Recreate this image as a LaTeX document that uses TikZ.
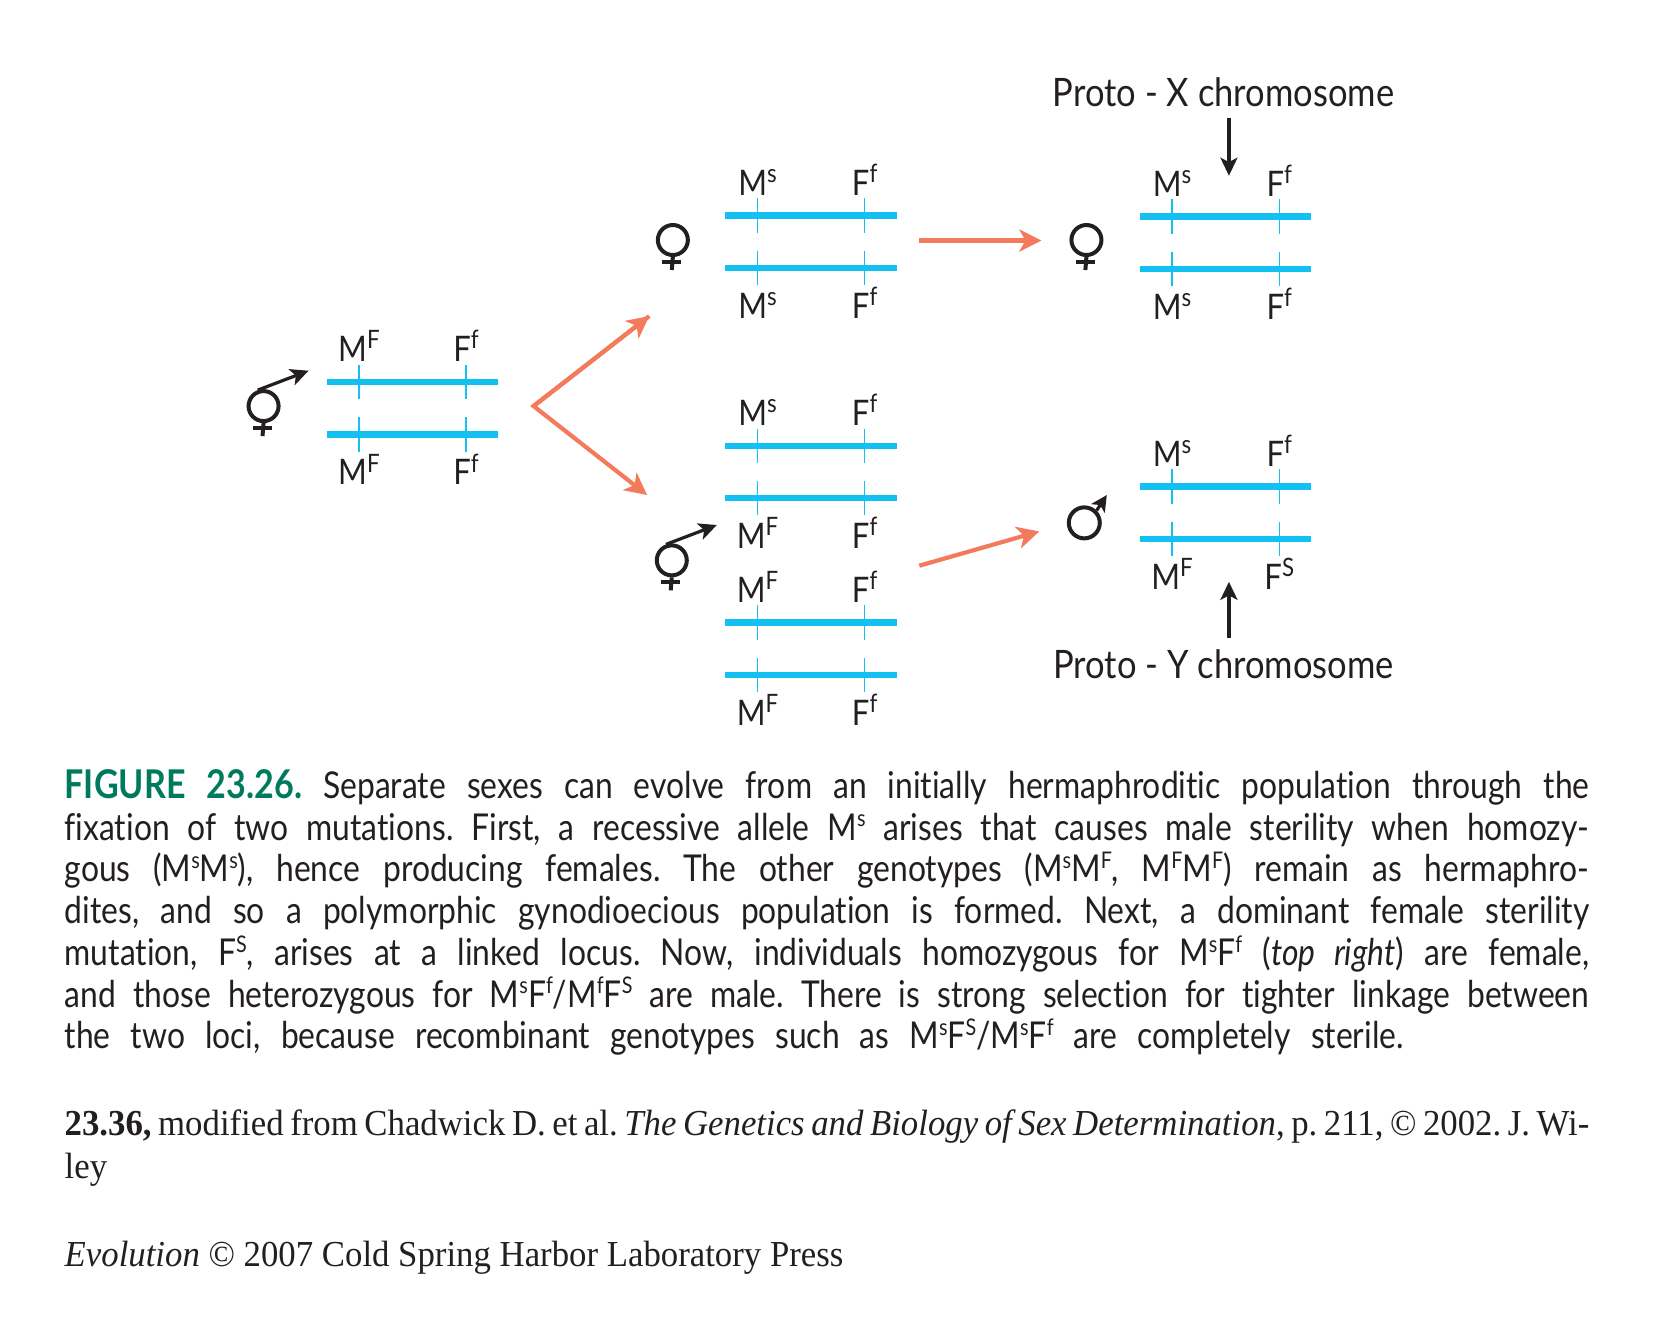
\documentclass[tikz,border=0pt]{standalone}
\usepackage{fontspec}
\usetikzlibrary{arrows.meta}
\setmainfont[FakeStretch=0.95]{Liberation Serif}
\newfontfamily\capfont[FakeStretch=0.86,Ligatures=NoCommon]{Lato}
\newfontfamily\lblfont[FakeStretch=0.88,Ligatures=NoCommon]{Lato}
\definecolor{chromblue}{HTML}{13C0F2}
\definecolor{salmon}{HTML}{F47A5C}
\definecolor{figgreen}{HTML}{007A5E}
\definecolor{inkblack}{HTML}{231F20}
\newcommand{\lsup}[1]{\raisebox{0.36em}{\scalebox{0.72}{#1}}}
\newcommand{\csup}[1]{\raisebox{0.36em}{\scalebox{0.62}{#1}}}
\frenchspacing
\tikzset{
  bar/.style={draw=chromblue,line width=3.2pt},
  tick/.style={draw=chromblue,line width=0.75pt},
  gene/.style={anchor=base,inner sep=0pt,font=\lblfont\fontsize{17.6}{18}\selectfont,text=inkblack},
  proto/.style={anchor=base,inner sep=0pt,font=\lblfont\fontsize{19.6}{20}\selectfont,text=inkblack},
  redarrow/.style={draw=salmon,line width=2.1pt,-{Stealth[length=11pt,width=11pt,inset=3pt]}},
  blackarrow/.style={draw=inkblack,line width=1.6pt,-{Stealth[length=9pt,width=8.5pt,inset=2.2pt]}},
  symb/.style={draw=inkblack,line width=2pt},
  capline/.style={anchor=base west,inner sep=0pt,font=\capfont\fontsize{18.5}{20}\selectfont,text=inkblack},
  credit/.style={anchor=base west,inner sep=0pt,font=\fontsize{18.3}{20}\selectfont,text=inkblack},
}
% \pairbars{name}{xleft}{ybar1}{ybar2}{lab tl}{lab tr}{lab bl}{lab br}
\newcommand{\pairbars}[8]{%
  \coordinate (#1a) at (#2,#3);
  \coordinate (#1b) at ({#2+160},#3);
  \coordinate (#1c) at (#2,#4);
  \coordinate (#1d) at ({#2+160},#4);
  \draw[bar] (#1a) -- (#1b);
  \draw[bar] (#1c) -- (#1d);
  \coordinate (#1t1) at ({#2+30},{#3-16});
  \coordinate (#1t2) at ({#2+30},{#3+16});
  \coordinate (#1t3) at ({#2+130},{#3-16});
  \coordinate (#1t4) at ({#2+130},{#3+16});
  \coordinate (#1t5) at ({#2+30},{#4-16});
  \coordinate (#1t6) at ({#2+30},{#4+16});
  \coordinate (#1t7) at ({#2+130},{#4-16});
  \coordinate (#1t8) at ({#2+130},{#4+16});
  \draw[tick] (#1t1) -- (#1t2);
  \draw[tick] (#1t3) -- (#1t4);
  \draw[tick] (#1t5) -- (#1t6);
  \draw[tick] (#1t7) -- (#1t8);
  \node[gene] (#1l1) at ({#2+30},{#3-19}) {#5};
  \node[gene] (#1l2) at ({#2+130},{#3-19}) {#6};
  \node[gene] (#1l3) at ({#2+30},{#4+47}) {#7};
  \node[gene] (#1l4) at ({#2+130},{#4+47}) {#8};
}
\newcommand{\MF}{M\lsup{F}}
\newcommand{\Ms}{M\lsup{s}}
\newcommand{\Ff}{F\lsup{f}}
\newcommand{\FS}{F\lsup{S}}
% female-base symbol: circle at (x,y)
\newcommand{\venus}[3]{%
  \node[symb,circle,minimum size=15pt,inner sep=0pt] (#1) at (#2,#3) {};
  \coordinate (#1s) at ({#2-1},{#3+28});
  \coordinate (#1l) at ({#2-10},{#3+20.5});
  \coordinate (#1r) at ({#2+8},{#3+20.5});
  \draw[symb] (#1.south) -- (#1s);
  \draw[symb] (#1l) -- (#1r);
}
\begin{document}
\begin{tikzpicture}[x=0.53571pt,y=-0.53571pt]
\useasboundingbox (0,0) rectangle (1568,1254);

\pairbars{A}{305}{356.5}{405.5}{\MF}{\Ff}{\MF}{\Ff}
\pairbars{B}{677}{201}{250}{\Ms}{\Ff}{\Ms}{\Ff}
\pairbars{C}{677}{416}{465}{\Ms}{\Ff}{\MF}{\Ff}
\pairbars{D}{677}{581}{630}{\MF}{\Ff}{\MF}{\Ff}
\pairbars{E}{1064}{202}{251}{\Ms}{\Ff}{\Ms}{\Ff}
\pairbars{G}{1064}{454}{503}{\Ms}{\Ff}{\MF}{\FS}

% hermaphrodite, left
\venus{hA}{246}{379}
\coordinate (hAe) at (288,346);
\draw[blackarrow] (hA.110) -- (hAe);
% hermaphrodite, middle
\venus{hC}{627}{523}
\coordinate (hCe) at (669,490);
\draw[blackarrow] (hC.110) -- (hCe);
% females
\venus{fB}{628}{224}
\venus{fE}{1014}{224}
% male
\node[symb,circle,minimum size=15.5pt,inner sep=0pt] (mG) at (1012,488) {};
\coordinate (mGe) at (1033,462);
\draw[blackarrow,-{Stealth[length=8pt,width=8pt,inset=2pt]}] (mG.north east) -- (mGe);

% salmon arrows
\coordinate (fork) at (498,379);
\coordinate (forkU) at (606,295);
\coordinate (forkD) at (604,462);
\draw[redarrow,line join=miter] (forkU) -- (fork) -- (forkD);
\draw[redarrow] (fork) -- (forkU);
\coordinate (b1) at (858,224.5);
\coordinate (b2) at (972,224.5);
\draw[redarrow] (b1) -- (b2);
\coordinate (c1) at (858,528);
\coordinate (c2) at (970,496);
\draw[redarrow] (c1) -- (c2);

% proto labels
\node[proto] (protoX) at (1142,99) {Proto - X chromosome};
\node[proto] (protoY) at (1142,633) {Proto - Y chromosome};
\coordinate (xa) at (1147,110);
\coordinate (xb) at (1147,164);
\draw[blackarrow] (xa) -- (xb);
\coordinate (ya) at (1147,595);
\coordinate (yb) at (1147,543);
\draw[blackarrow] (ya) -- (yb);

% caption
\node[capline] (cap1) at (60,745) {\makebox[762.3pt][s]{{\bfseries\fontsize{19.8}{20}\selectfont\color{figgreen}FIGURE 23.26.} Separate sexes can evolve from an initially hermaphroditic population through the}};
\node[capline] (cap2) at (60,784) {\makebox[762.3pt][s]{fixation of two mutations. First, a recessive allele M\csup{s} arises that causes male sterility when homozy-}};
\node[capline] (cap3) at (60,823) {\makebox[762.3pt][s]{gous (M\csup{s}M\csup{s}), hence producing females. The other genotypes (M\csup{s}M\csup{F}, M\csup{F}M\csup{F}) remain as hermaphro-}};
\node[capline] (cap4) at (60,862) {\makebox[762.3pt][s]{dites, and so a polymorphic gynodioecious population is formed. Next, a dominant female sterility}};
\node[capline] (cap5) at (60,901) {\makebox[762.3pt][s]{mutation, F\csup{S}, arises at a linked locus. Now, individuals homozygous for M\csup{s}F\csup{f} (\textit{top right}) are female,}};
\node[capline] (cap6) at (60,940) {\makebox[762.3pt][s]{and those heterozygous for M\csup{s}F\csup{f}/M\csup{f}F\csup{S} are male. There is strong selection for tighter linkage between}};
\node[capline] (cap7) at (60,979) {\makebox[669.6pt][s]{the two loci, because recombinant genotypes such as M\csup{s}F\csup{S}/M\csup{s}F\csup{f} are completely sterile.}};

% credits
\node[credit] (cred1) at (60,1060) {\makebox[762.3pt][s]{\textbf{23.36,} modified from Chadwick D. et al. \textit{The Genetics and Biology of Sex Determination}, p. 211, © 2002. J. Wi-}};
\node[credit] (cred2) at (60,1100) {ley};
\node[credit] (cred3) at (60,1182) {\textit{Evolution} © 2007 Cold Spring Harbor Laboratory Press};
\end{tikzpicture}
\end{document}
